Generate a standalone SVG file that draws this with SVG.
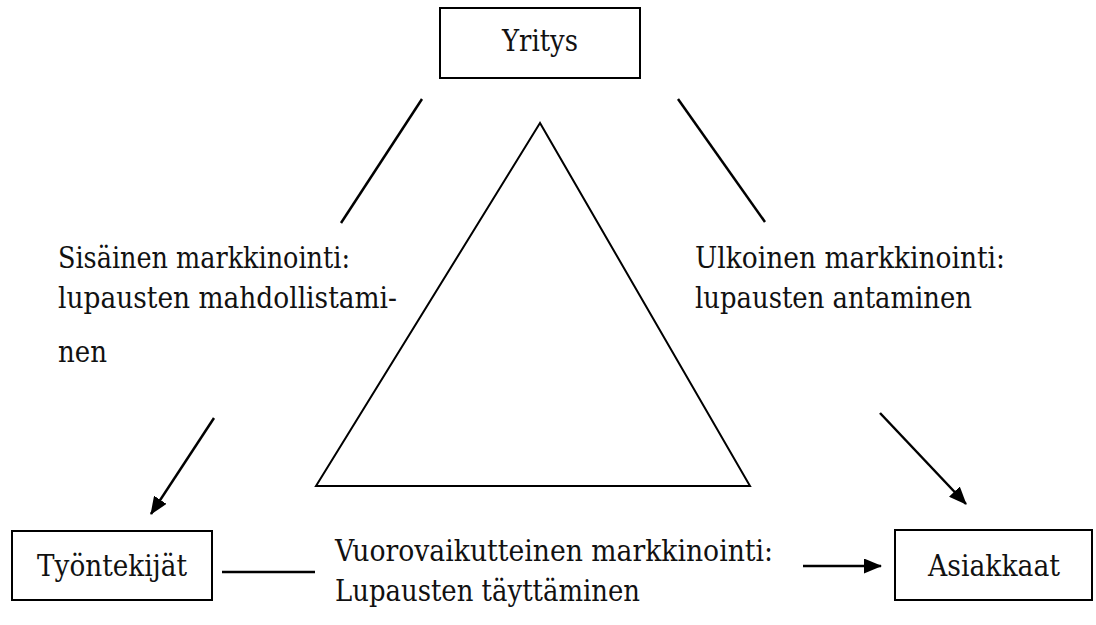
<svg xmlns="http://www.w3.org/2000/svg" width="1096" height="625" viewBox="0 0 1096 625">
  <style>
    .box { fill: #ffffff; stroke: #000000; stroke-width: 2; }
    .lbl { font-family: "DejaVu Serif Condensed", "DejaVu Serif", "Liberation Serif", serif; font-size: 29px; fill: #111111; }
    .mid { text-anchor: middle; }
    .edge { stroke: #000000; stroke-width: 2.5; fill: none; }
    .tri { stroke: #000000; stroke-width: 2; fill: none; }
  </style>
  <defs>
    <marker id="arrow" viewBox="0 0 18 15" refX="17" refY="7.5" markerWidth="18" markerHeight="15" markerUnits="userSpaceOnUse" orient="auto">
      <path d="M0,0 L18,7.5 L0,15 Z" fill="#000000"/>
    </marker>
  </defs>

  <rect width="1096" height="625" fill="#ffffff"/>

  <!-- central triangle -->
  <polygon class="tri" points="540,123 316,486 750,486"/>

  <!-- nodes -->
  <g id="yritys">
    <rect class="box" x="440" y="8" width="200" height="70"/>
    <text class="lbl mid" x="540" y="51" textLength="76" lengthAdjust="spacingAndGlyphs">Yritys</text>
  </g>
  <g id="tyontekijat">
    <rect class="box" x="12" y="531" width="200" height="69"/>
    <text class="lbl mid" x="112" y="576" textLength="150" lengthAdjust="spacingAndGlyphs">Työntekijät</text>
  </g>
  <g id="asiakkaat">
    <rect class="box" x="895" y="530" width="197" height="70"/>
    <text class="lbl mid" x="994" y="576" textLength="132" lengthAdjust="spacingAndGlyphs">Asiakkaat</text>
  </g>

  <!-- connectors -->
  <g id="connectors">
    <line class="edge" x1="422" y1="99" x2="341" y2="223"/>
    <line class="edge" x1="214" y1="418" x2="151" y2="514" marker-end="url(#arrow)"/>
    <line class="edge" x1="678" y1="99" x2="765" y2="222"/>
    <line class="edge" x1="880" y1="413" x2="966" y2="504" marker-end="url(#arrow)"/>
    <line class="edge" x1="222" y1="572" x2="315" y2="572"/>
    <line class="edge" x1="803" y1="566" x2="881" y2="566" marker-end="url(#arrow)"/>
  </g>

  <!-- edge labels -->
  <g id="label-internal">
    <text class="lbl" x="58" y="268" textLength="292" lengthAdjust="spacingAndGlyphs">Sisäinen markkinointi:</text>
    <text class="lbl" x="58" y="308" textLength="339" lengthAdjust="spacingAndGlyphs">lupausten mahdollistami-</text>
    <text class="lbl" x="58" y="362" textLength="49" lengthAdjust="spacingAndGlyphs">nen</text>
  </g>
  <g id="label-external">
    <text class="lbl" x="695" y="268" textLength="310" lengthAdjust="spacingAndGlyphs">Ulkoinen markkinointi:</text>
    <text class="lbl" x="695" y="308" textLength="277" lengthAdjust="spacingAndGlyphs">lupausten antaminen</text>
  </g>
  <g id="label-interactive">
    <text class="lbl" x="335" y="561" textLength="438" lengthAdjust="spacingAndGlyphs">Vuorovaikutteinen markkinointi:</text>
    <text class="lbl" x="335" y="601" textLength="305" lengthAdjust="spacingAndGlyphs">Lupausten täyttäminen</text>
  </g>
</svg>
